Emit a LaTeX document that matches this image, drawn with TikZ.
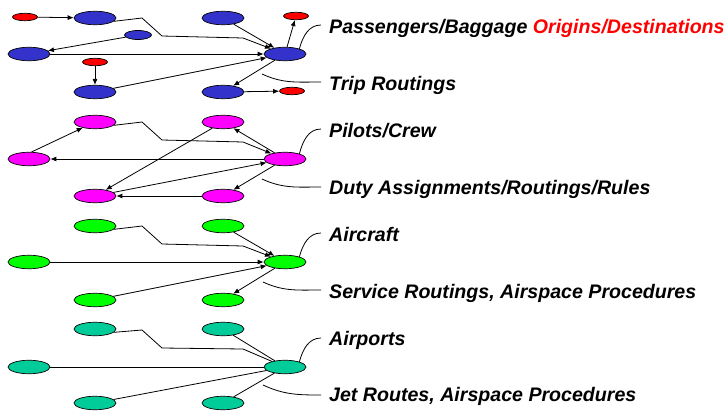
\documentclass[tikz,border=0pt]{standalone}
\usepackage{fontspec}
\setmainfont{Liberation Sans}
\usetikzlibrary{shapes.geometric,arrows.meta}
\definecolor{pblue}{RGB}{51,51,204}
\definecolor{pred}{RGB}{255,0,0}
\definecolor{pmag}{RGB}{255,0,255}
\definecolor{pgreen}{RGB}{0,255,0}
\definecolor{pteal}{RGB}{0,204,153}
\begin{document}
\begin{tikzpicture}[x=1pt,y=-1pt,
  big/.style={ellipse,draw=black,line width=0.7pt,minimum width=42pt,minimum height=13.5pt,inner sep=0pt},
  small/.style={ellipse,draw=black,line width=0.7pt,minimum width=25pt,minimum height=7.5pt,inner sep=0pt,fill=pred},
  mid/.style={ellipse,draw=black,line width=0.7pt,minimum width=27pt,minimum height=9pt,inner sep=0pt},
  conn/.style={line width=0.8pt,draw=black},
  arr/.style={conn,-{Latex[length=6pt,width=5pt]}},
  lead/.style={line width=0.8pt,draw=black},
  lbl/.style={anchor=base west,inner sep=0pt,font=\fontsize{19.6}{22}\selectfont\bfseries\itshape}
]
\useasboundingbox (0,0) rectangle (725,410);

% ---------- Layer 1: passengers ----------
\node[small] (r1) at (25,17) {};
\node[big,fill=pblue] (b1) at (95,18) {};
\node[mid,fill=pblue] (b2) at (138,35) {};
\node[big,fill=pblue] (b3) at (29,54) {};
\node[small] (r2) at (95,62) {};
\node[big,fill=pblue] (b4) at (95,92) {};
\node[big,fill=pblue] (b5) at (223,18) {};
\node[big,fill=pblue] (h1) at (285,54) {};
\node[small] (r3) at (296,16) {};
\node[big,fill=pblue] (b6) at (223,92) {};
\node[small] (r4) at (292,91) {};

\draw[arr] (r1) -- (b1);
\draw[arr] (b1.-10) -- (142,18) -- (162,36) -- (243,38) -- (h1);
\draw[arr] (b2) -- (b3);
\draw[arr] (b3) -- (h1);
\draw[arr] (r2) -- (b4);
\draw[arr] (b4) -- (h1);
\draw[arr] (b5) -- (h1);
\draw[arr] (h1) -- (r3);
\draw[arr] (h1) -- (b6);
\draw[arr] (b6) -- (r4);

\coordinate (e1a) at (321,25);
\coordinate (s1b) at (262,74);
\coordinate (e1b) at (321,82);
\draw[lead] (h1.20) to[out=75,in=180] (e1a);
\draw[lead] (s1b) to[out=-25,in=180] (e1b);

% ---------- Layer 2: crew ----------
\node[big,fill=pmag] (m1) at (95,122) {};
\node[big,fill=pmag] (m2) at (223,122) {};
\node[big,fill=pmag] (m3) at (29,159) {};
\node[big,fill=pmag] (h2) at (285,159) {};
\node[big,fill=pmag] (m4) at (95,196) {};
\node[big,fill=pmag] (m5) at (223,196) {};

\draw[arr] (m3.70) -- (m1);
\draw[arr] (m1.-10) -- (142,122) -- (162,140) -- (243,142) -- (h2);
\draw[arr] (h2) -- (m2);
\draw[arr] (h2) -- (m3);
\draw[arr] (m2) -- (m4);
\draw[arr] (m4) -- (h2);
\draw[arr] (h2) -- (m5);
\draw[arr] (m5) -- (m4);

\coordinate (e2a) at (321,129);
\coordinate (s2b) at (262,179);
\coordinate (e2b) at (321,187);
\draw[lead] (h2.20) to[out=75,in=180] (e2a);
\draw[lead] (s2b) to[out=-25,in=180] (e2b);

% ---------- Layer 3: aircraft ----------
\node[big,fill=pgreen] (g1) at (95,226) {};
\node[big,fill=pgreen] (g2) at (223,226) {};
\node[big,fill=pgreen] (g3) at (29,262) {};
\node[big,fill=pgreen] (h3) at (285,262) {};
\node[big,fill=pgreen] (g4) at (95,300) {};
\node[big,fill=pgreen] (g5) at (223,300) {};

\draw[arr] (g1.-10) -- (142,226) -- (162,244) -- (243,246) -- (h3);
\draw[arr] (g2) -- (h3);
\draw[arr] (g3) -- (h3);
\draw[arr] (g4) -- (h3);
\draw[arr] (h3) -- (g5);

\coordinate (e3a) at (321,233);
\coordinate (s3b) at (263,282);
\coordinate (e3b) at (321,290);
\draw[lead] (h3.20) to[out=75,in=180] (e3a);
\draw[lead] (s3b) to[out=-25,in=180] (e3b);

% ---------- Layer 4: airports ----------
\node[big,fill=pteal] (t1) at (95,329) {};
\node[big,fill=pteal] (t2) at (223,329) {};
\node[big,fill=pteal] (t3) at (29,367) {};
\node[big,fill=pteal] (h4) at (285,367) {};
\node[big,fill=pteal] (t4) at (95,403) {};
\node[big,fill=pteal] (t5) at (223,403) {};

\draw[conn] (t1.-10) -- (142,330) -- (162,348) -- (243,349) -- (h4);
\draw[conn] (t2) -- (h4);
\draw[conn] (t3) -- (h4);
\draw[conn] (t4) -- (h4);
\draw[conn] (h4) -- (t5);

\coordinate (e4a) at (321,338);
\coordinate (s4b) at (263,385);
\coordinate (e4b) at (321,395);
\draw[lead] (h4.20) to[out=75,in=180] (e4a);
\draw[lead] (s4b) to[out=-25,in=180] (e4b);

% ---------- Labels ----------
\node[lbl] (l1a) at (329,33) {Passengers/Baggage \textcolor{pred}{Origins/Destinations}};
\node[lbl] (l1b) at (329,90) {Trip Routings};
\node[lbl] (l2a) at (329,137) {Pilots/Crew};
\node[lbl] (l2b) at (329,194) {Duty Assignments/Routings/Rules};
\node[lbl] (l3a) at (329,241) {Aircraft};
\node[lbl] (l3b) at (329,298) {Service Routings, Airspace Procedures};
\node[lbl] (l4a) at (329,345) {Airports};
\node[lbl] (l4b) at (329,401) {Jet Routes, Airspace Procedures};
\end{tikzpicture}
\end{document}
